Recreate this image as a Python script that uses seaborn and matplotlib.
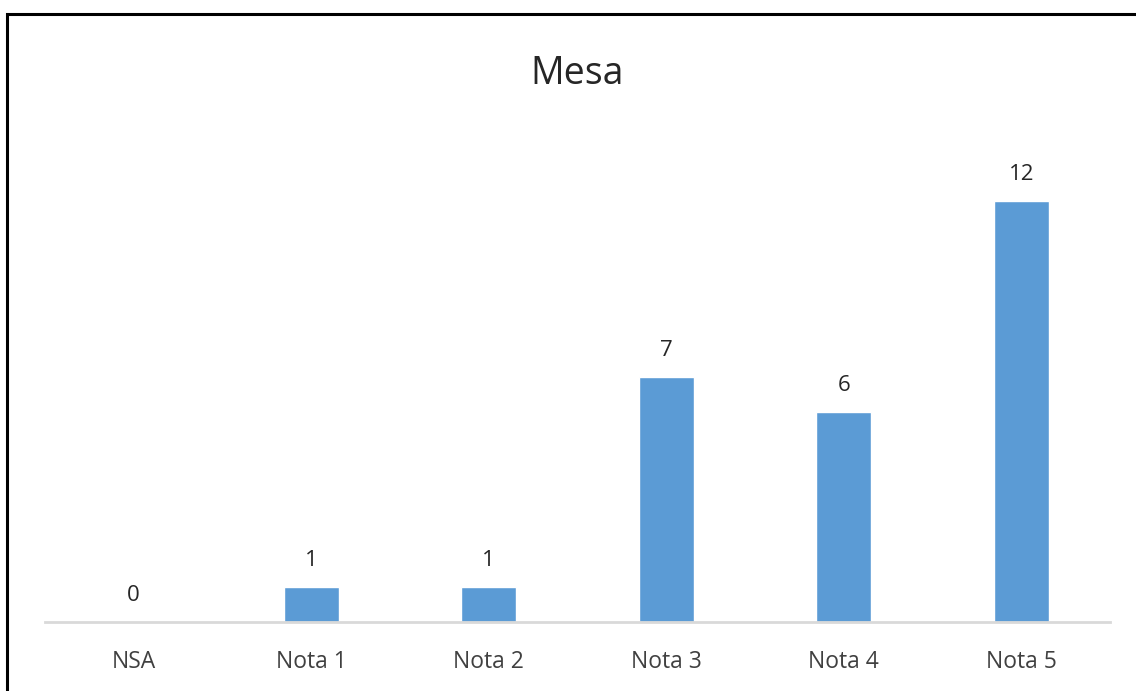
import matplotlib
matplotlib.use("Agg")
import matplotlib.pyplot as plt
import seaborn as sns
from matplotlib.patches import Rectangle

# data
categorias = ["NSA", "Nota 1", "Nota 2", "Nota 3", "Nota 4", "Nota 5"]
valores = [0, 1, 1, 7, 6, 12]

sns.set_style("white")
plt.rcParams['font.family'] = ['Open Sans', 'DejaVu Sans']

fig = plt.figure(figsize=(11.36, 6.91), dpi=100)
ax = fig.add_axes([0.0396, 0.0999, 0.9375, 0.71])

sns.barplot(x=categorias, y=valores, color="#5B9BD5", width=0.31,
            saturation=1, ax=ax)

ax.set_ylim(0, 14)
ax.set_xlim(-0.5, 5.5)
for c in ax.containers:
    ax.bar_label(c, padding=11.5, fontsize=16, color="#262626")

for s in ["top", "right", "left"]:
    ax.spines[s].set_visible(False)
ax.spines["bottom"].set_color("#D9D9D9")
ax.spines["bottom"].set_linewidth(2)
ax.set_yticks([])
ax.tick_params(axis="x", length=0, pad=20, labelsize=16.5, labelcolor="#404040")
ax.set_xlabel("")
ax.set_ylabel("")

fig.text(0.508, 0.893, "Mesa", ha="center", va="center", fontsize=27,
         color="#262626")

# outer frame of the screenshot
fig.patches.append(Rectangle((0.0066, -0.02), 1.1, 0.9997, transform=fig.transFigure,
                             fill=False, edgecolor="black", linewidth=2.2,
                             clip_on=False))

fig.savefig("out.png", dpi=100)
